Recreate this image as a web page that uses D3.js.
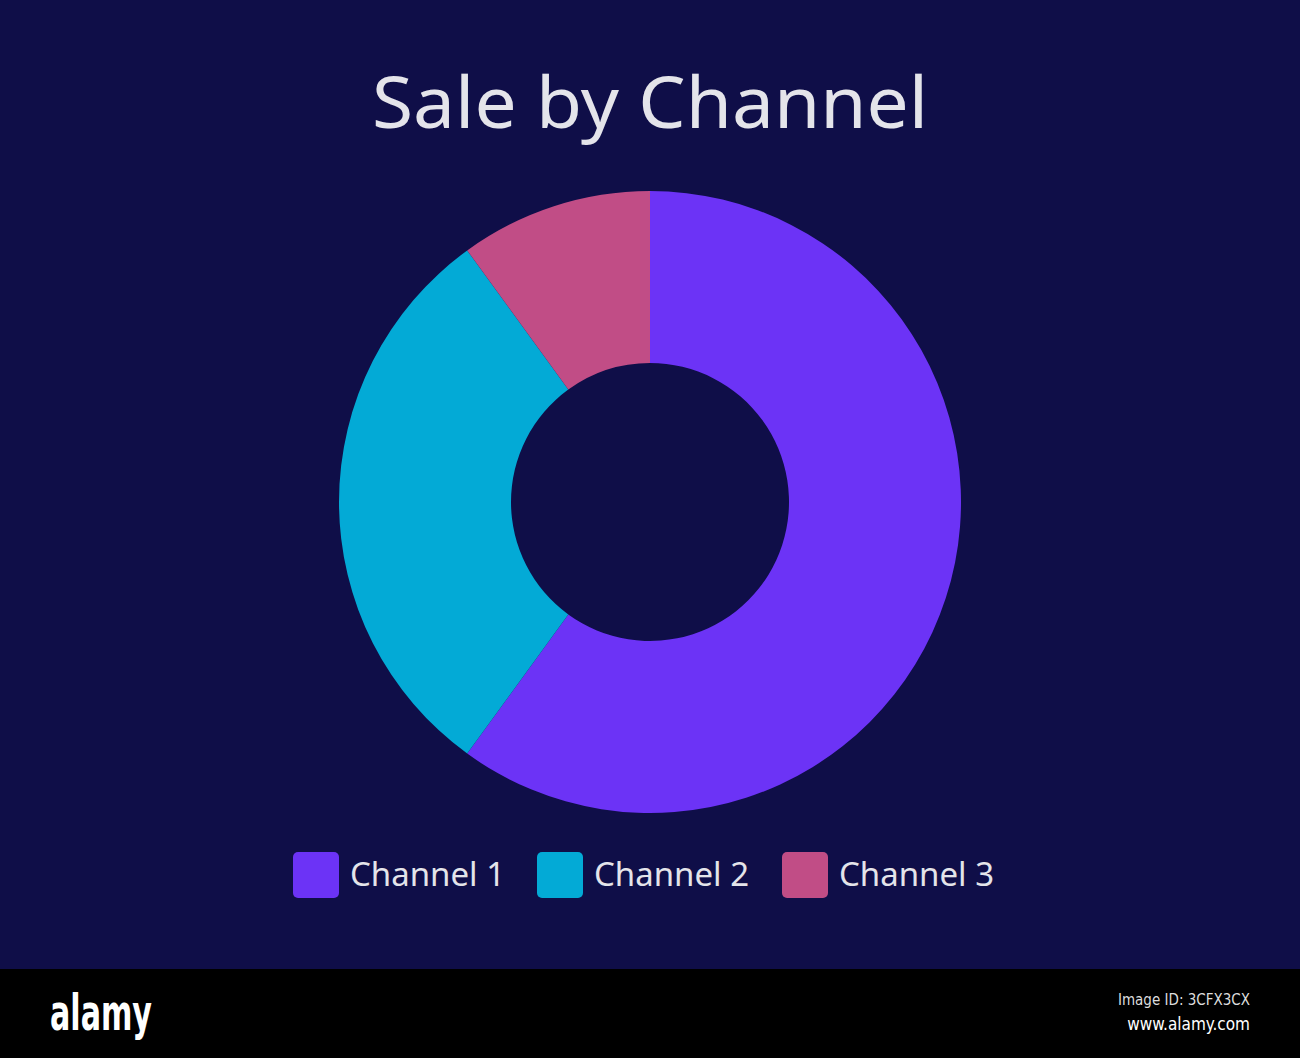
<!DOCTYPE html>
<html>
<head>
<meta charset="utf-8">
<script src="https://d3js.org/d3.v7.min.js"></script>
<style>
  body { margin: 0; background: #0f0e48; }
  svg { display: block; }
</style>
</head>
<body>
<script>
var width = 1300, height = 1058;
var bandTop = 969;

var title = "Sale by Channel";
var channels = ["Channel 1", "Channel 2", "Channel 3"];
var shares = [60, 30, 10];
var colors = ["#6c33f6", "#03aad6", "#c14d86"];

var svg = d3.select("body").append("svg")
    .attr("width", width)
    .attr("height", height);

svg.append("rect")
    .attr("width", width).attr("height", bandTop)
    .attr("fill", "#0f0e48");

// title
svg.append("text")
    .attr("x", 650).attr("y", 128)
    .attr("text-anchor", "middle")
    .attr("textLength", 556)
    .attr("lengthAdjust", "spacingAndGlyphs")
    .style("font-family", "'Noto Sans', 'Open Sans', sans-serif")
    .style("font-size", "72px")
    .style("fill", "#e4e4ea")
    .text(title);

// donut
var cx = 650, cy = 502, outerR = 311, innerR = 139;

var pie = d3.pie().sort(null).value(function(d){ return d; });
var arc = d3.arc().innerRadius(innerR).outerRadius(outerR);

var g = svg.append("g").attr("transform", "translate(" + [cx, cy] + ")");
g.selectAll("path")
    .data(pie(shares))
    .enter()
    .append("path")
    .attr("d", arc)
    .attr("fill", function(d, i){ return colors[i]; });

// legend
var legendX = d3.scaleOrdinal().domain(channels).range([293, 537, 782]);
var legend = svg.selectAll(".legend")
    .data(channels)
    .enter()
    .append("g")
    .attr("class", "legend")
    .attr("transform", function(d){ return "translate(" + [legendX(d), 852] + ")"; });

legend.append("rect")
    .attr("width", 46).attr("height", 46)
    .attr("rx", 5).attr("ry", 5)
    .attr("fill", function(d, i){ return colors[i]; });

legend.append("text")
    .attr("x", 57).attr("y", 34)
    .attr("textLength", 155)
    .attr("lengthAdjust", "spacingAndGlyphs")
    .style("font-family", "'Noto Sans', 'Open Sans', sans-serif")
    .style("font-size", "32px")
    .style("fill", "#e4e4ea")
    .text(function(d){ return d; });

// bottom band
svg.append("rect")
    .attr("y", bandTop).attr("width", width).attr("height", height - bandTop)
    .attr("fill", "#000");
svg.append("text")
    .attr("x", 50).attr("y", 1030)
    .style("font-family", "'Liberation Sans Narrow', 'DejaVu Sans Condensed', sans-serif")
    .style("font-weight", "bold")
    .style("font-size", "50px")
    .attr("textLength", 102)
    .attr("lengthAdjust", "spacingAndGlyphs")
    .style("fill", "#fff")
    .text("alamy");
svg.append("text")
    .attr("x", 1250).attr("y", 1005)
    .attr("text-anchor", "end")
    .style("font-family", "'DejaVu Sans Condensed', sans-serif")
    .style("font-size", "15px")
    .style("fill", "#ddd")
    .text("Image ID: 3CFX3CX");
svg.append("text")
    .attr("x", 1250).attr("y", 1030)
    .attr("text-anchor", "end")
    .style("font-family", "'DejaVu Sans Condensed', sans-serif")
    .style("font-size", "17px")
    .style("fill", "#fff")
    .text("www.alamy.com");
</script>
</body>
</html>
